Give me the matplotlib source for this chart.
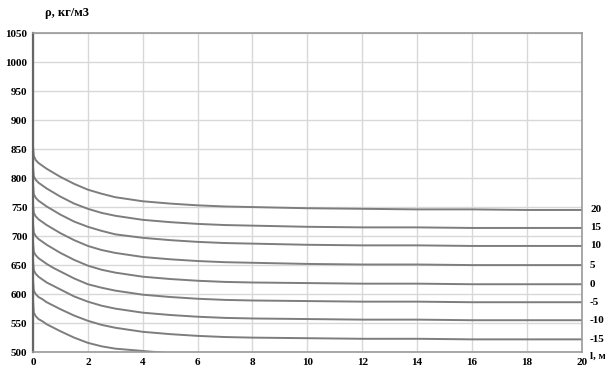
import numpy as np
import matplotlib.pyplot as plt

# distance, m
l_vals = [0, 0.03, 0.1, 0.2, 0.35, 0.5, 0.75, 1, 1.5, 2, 2.5, 3, 4, 5, 6, 7, 8, 10, 12, 14, 16, 18, 20]

# density curves, kg/m3 (labelled by temperature)
rho_p20 = [855, 838, 831, 826, 821, 816, 809, 802, 790, 780, 773, 767, 760, 756, 753, 751, 750, 748, 747, 746, 746, 745, 745]
rho_p15 = [820, 803, 797, 792, 787, 782, 775, 768, 756, 747, 740, 735, 728, 724, 721, 719, 718, 716, 715, 715, 714, 714, 714]
rho_p10 = [790, 772, 766, 761, 756, 751, 744, 737, 725, 716, 709, 703, 697, 693, 690, 688, 687, 685, 684, 684, 683, 683, 683]
rho_p5 = [755, 740, 734, 729, 724, 719, 712, 705, 693, 683, 676, 671, 664, 660, 657, 655, 654, 652, 651, 651, 650, 650, 650]
rho_0 = [722, 706, 700, 695, 690, 685, 678, 671, 659, 649, 642, 637, 630, 626, 623, 621, 620, 619, 618, 618, 617, 617, 617]
rho_m5 = [690, 673, 667, 662, 657, 652, 645, 639, 627, 617, 611, 606, 599, 595, 592, 590, 589, 588, 587, 587, 586, 586, 586]
rho_m10 = [658, 641, 635, 630, 625, 620, 614, 608, 596, 587, 580, 575, 568, 564, 561, 559, 558, 557, 556, 556, 555, 555, 555]
rho_m15 = [625, 606, 600, 595, 591, 586, 580, 574, 563, 554, 547, 542, 535, 531, 528, 526, 525, 524, 523, 523, 522, 522, 522]
rho_m20 = [590, 568, 562, 557, 553, 548, 542, 536, 525, 516, 510, 506, 502, 498, 495, 493, 492, 490, 489, 488, 487, 487, 486]

curves = [rho_p20, rho_p15, rho_p10, rho_p5, rho_0, rho_m5, rho_m10, rho_m15, rho_m20]
curve_labels = ['20', '15', '10', '5', '0', '-5', '-10', '-15', None]

x_ticks = list(range(0, 21, 2))
y_ticks = list(range(500, 1051, 50))

plt.rcParams['font.family'] = ['Liberation Serif', 'DejaVu Serif']
plt.rcParams['font.weight'] = 'bold'

fig = plt.figure(figsize=(6.05, 3.75), dpi=100)
ax = fig.add_axes([0.0545, 0.061, 0.907, 0.851])

for ys, lab in zip(curves, curve_labels):
    ax.plot(l_vals, ys, color='#7d7d7d', lw=1.4, solid_joinstyle='round')
    if lab is not None:
        ax.annotate(lab, xy=(20, ys[-1]), xytext=(6, 0), textcoords='offset points',
                    ha='left', va='center', fontsize=8, fontweight='bold', annotation_clip=False)

ax.set_xlim(0, 20)
ax.set_ylim(500, 1050)
ax.set_xticks(x_ticks)
ax.set_yticks(y_ticks)
ax.grid(True, color='#d8d8d8', lw=1.0)
ax.set_axisbelow(True)
ax.tick_params(length=0, labelsize=8, pad=4)
for lbl in ax.get_xticklabels() + ax.get_yticklabels():
    lbl.set_fontweight('bold')

for side in ['top', 'right', 'bottom']:
    ax.spines[side].set_color('#999999')
    ax.spines[side].set_linewidth(1.2)
ax.spines['left'].set_color('#666666')
ax.spines['left'].set_linewidth(1.6)

fig.text(0.075, 0.965, 'ρ, кг/м3', fontsize=9, fontweight='bold', ha='left', va='center')
fig.text(0.975, 0.05, 'l, м', fontsize=8, fontweight='bold', ha='left', va='center')

fig.savefig('out.png', dpi=100)
